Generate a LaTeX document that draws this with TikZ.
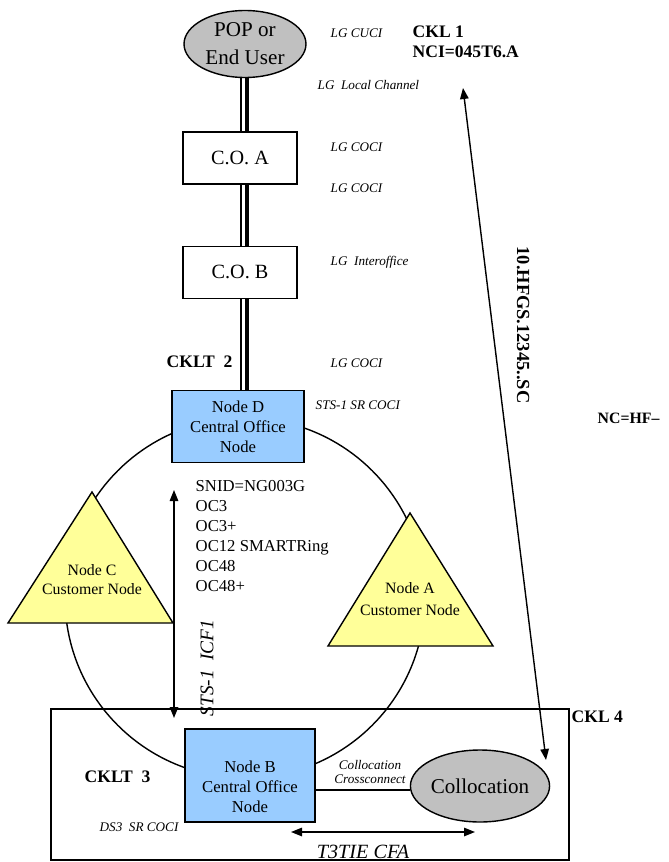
\documentclass[tikz,border=0pt]{standalone}
\usepackage{fontspec}
\setmainfont{Liberation Serif}
\usetikzlibrary{positioning,arrows.meta,shapes.geometric}
\definecolor{nodeblue}{RGB}{153,204,255}
\definecolor{custyellow}{RGB}{255,255,153}
\definecolor{popgray}{RGB}{192,192,192}
\newcommand{\trunk}[2]{%
\draw[line width=2.2pt] (247,0 |- #1.south) -- (247,0 |- #2.north);
\draw[line width=0.6pt] (241,0 |- #1.south) -- (241,0 |- #2.north);}

\begin{document}
\begin{tikzpicture}[x=0.02cm,y=-0.02cm,line width=0.8pt,
  every node/.style={font=\fontsize{9.5}{11.3}\selectfont},
  popnode/.style={draw,ellipse,fill=popgray,inner sep=0,minimum width=2.44cm,minimum height=1.34cm,align=center,font=\fontsize{12}{16}\selectfont},
  cobox/.style={draw,fill=white,minimum width=2.28cm,minimum height=1.04cm,font=\fontsize{11.5}{14}\selectfont},
  conode/.style={draw,fill=nodeblue,minimum width=2.64cm,align=center},
  custtri/.style={draw,fill=custyellow},
  lglabel/.style={anchor=west,inner sep=0,font=\fontsize{7.5}{8.5}\selectfont\itshape},
  ckl/.style={anchor=west,inner sep=0,font=\fontsize{10}{12}\selectfont\bfseries},
  dblarrow/.style={{Triangle[length=0.22cm,width=0.17cm]}-{Triangle[length=0.22cm,width=0.17cm]}}]
\useasboundingbox (0,0) rectangle (669,862);
\draw (245,598) circle[radius=3.6cm];
\node[draw,minimum width=10.36cm,minimum height=3.02cm] (cklbox) at (310,784.5) {};
\draw[custtri] (92,492) -- (173,623) -- (8,623) -- cycle;
\draw[custtri] (410,513) -- (493,646) -- (328,646) -- cycle;
\node[align=center,font=\fontsize{9}{10.8}\selectfont] (nodec) at (92,580) {Node C\\Customer Node};
\node[align=center,font=\fontsize{9}{12.5}\selectfont] (nodea) at (410,599) {Node A\\Customer Node};
\node[popnode] (pop) at (245,44) {POP or\\End User};
\node[cobox,below=1.06cm of pop,xshift=-0.1cm] (coa) {C.O. A};
\node[cobox,below=1.22cm of coa] (cob) {C.O. B};
\node[conode,minimum height=1.44cm,below=1.82cm of cob,xshift=-0.04cm] (noded) {Node D\\Central Office\\Node};
\node[conode,minimum width=2.6cm,minimum height=1.86cm] (nodeb) at (250,775.5) {};
\node[align=center] (nodebtext) at (250,787) {Node B\\Central Office\\Node};
\node[draw,ellipse,fill=popgray,inner sep=0,minimum width=2.68cm,minimum height=1.44cm,font=\fontsize{12}{14}\selectfont] (colloc) at (480,786) {Collocation};
\trunk{pop}{coa}
\trunk{coa}{cob}
\trunk{cob}{noded}
\draw (nodeb.east |- 0,790) -- (colloc.west |- 0,790);
\coordinate (cklonetip) at (463,88);
\coordinate (cklfourtip) at (546,760);
\draw[dblarrow] (cklonetip) -- (cklfourtip);
\coordinate (icftop) at (174,490);
\coordinate (icfbot) at (174,718);
\draw[dblarrow] (icftop) -- (icfbot);
\coordinate (tieleft) at (291,832);
\coordinate (tieright) at (475,832);
\draw[dblarrow] (tieleft) -- (tieright);
\node[lglabel] (lgcuci) at (330,33) {LG CUCI};
\node[ckl] (cklone) at (412,32) {CKL 1};
\node[ckl] (nci) at (412,52) {NCI=045T6.A};
\node[lglabel] (lglocal) at (317,85) {LG\ \ Local Channel};
\node[lglabel] (lgcocia) at (330,147) {LG COCI};
\node[lglabel] (lgcocib) at (330,188) {LG COCI};
\node[lglabel] (lginter) at (330,262) {LG\ \ Interoffice};
\node[lglabel] (lgcocic) at (330,363) {LG COCI};
\node[lglabel] (stssr) at (315,405) {STS-1 SR COCI};
\node[ckl] (ckltwo) at (166,362) {CKLT\ \ 2};
\node[ckl] (cklthree) at (84,777) {CKLT\ \ 3};
\node[ckl] (cklfour) at (571,717) {CKL 4};
\node[lglabel] (dssr) at (99,827) {DS3\ \ SR COCI};
\node[lglabel,anchor=center,align=center] (xconn) at (370,772) {Collocation\\Crossconnect};
\node[font=\fontsize{11.5}{13}\selectfont\itshape] (tiecfa) at (363,852) {T3TIE CFA};
\node[rotate=90,font=\fontsize{11}{13}\selectfont\itshape] (icf) at (207,668) {STS-1\ \ ICF1};
\node[rotate=-90,font=\fontsize{10.5}{13}\selectfont\bfseries] (hfgs) at (523,325) {10.HFGS.12345..SC};
\node[anchor=west,inner sep=0,font=\fontsize{9}{11}\selectfont\bfseries] (nchf) at (597,418) {NC=HF--};
\node[anchor=north west,align=left,inner sep=0] (snid) at (195,480) {SNID=NG003G\\OC3\\OC3+\\OC12 SMARTRing\\OC48\\OC48+};
\end{tikzpicture}
\end{document}
